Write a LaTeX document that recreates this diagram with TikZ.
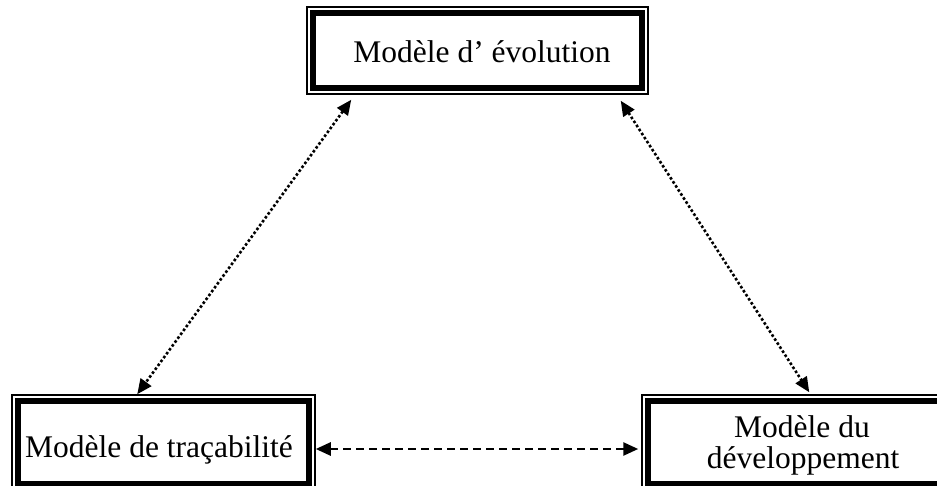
\documentclass[tikz,border=0pt]{standalone}
\usepackage{fontspec}
\setmainfont{Liberation Serif}
\usetikzlibrary{arrows.meta}
\tikzset{
  frame/.style={draw, line width=1.5pt, inner sep=0pt, rectangle},
  thickframe/.style={line width=6pt},
  lbl/.style={font=\fontsize{31.5}{36}\selectfont, inner sep=0pt, align=center},
  tip/.style={},
  dotarrow/.style={line width=2.6pt, dash pattern=on 2.6pt off 2.2pt, {Triangle[length=15pt,width=13pt]}-{Triangle[length=15pt,width=13pt]}},
  dasharrow/.style={line width=2.6pt, dash pattern=on 8pt off 5pt, {Triangle[length=15pt,width=13pt]}-{Triangle[length=15pt,width=13pt]}}
}
\begin{document}
\begin{tikzpicture}[x=1pt,y=-1pt]
\clip (0,0) rectangle (937,486);
\fill[white] (0,0) rectangle (937,486);
% frames
\node[frame, minimum width=341pt, minimum height=87pt] (E) at (477.5,50.5) {};
\node[frame, minimum width=303pt, minimum height=95pt] (T) at (163.5,442.5) {};
\node[frame, minimum width=320pt, minimum height=95pt] (D) at (802,442.5) {};
\foreach \n in {E,T,D}{
  \draw[thickframe] ([shift={(7pt,-7pt)}]\n.north west) rectangle ([shift={(-7pt,7pt)}]\n.south east);
}
% texts
\node[lbl, anchor=base] (tE) at (482,63) {Modèle d’ évolution};
\node[lbl, anchor=base] (tT) at (159,457) {Modèle de traçabilité};
\node[lbl, anchor=base] (tD) at (802,437) {Modèle du};
\node[lbl, anchor=base] (tD2) at (803,468) {développement};
% connectors
\coordinate (e1) at ([shift={(45pt,-5pt)}]E.south west);
\coordinate (e2) at ([shift={(-28pt,-6pt)}]E.south east);
\coordinate (t1) at ([shift={(126pt,0pt)}]T.north west);
\coordinate (t2) at (T.east |- 0,449);
\coordinate (d1) at ([shift={(168pt,2pt)}]D.north west);
\coordinate (d2) at ([shift={(-3pt,0pt)}]D.west |- 0,449);
\draw[dotarrow] (e1) -- (t1);
\draw[dotarrow] (e2) -- (d1);
\draw[dasharrow] (t2) -- (d2);
\end{tikzpicture}
\end{document}
